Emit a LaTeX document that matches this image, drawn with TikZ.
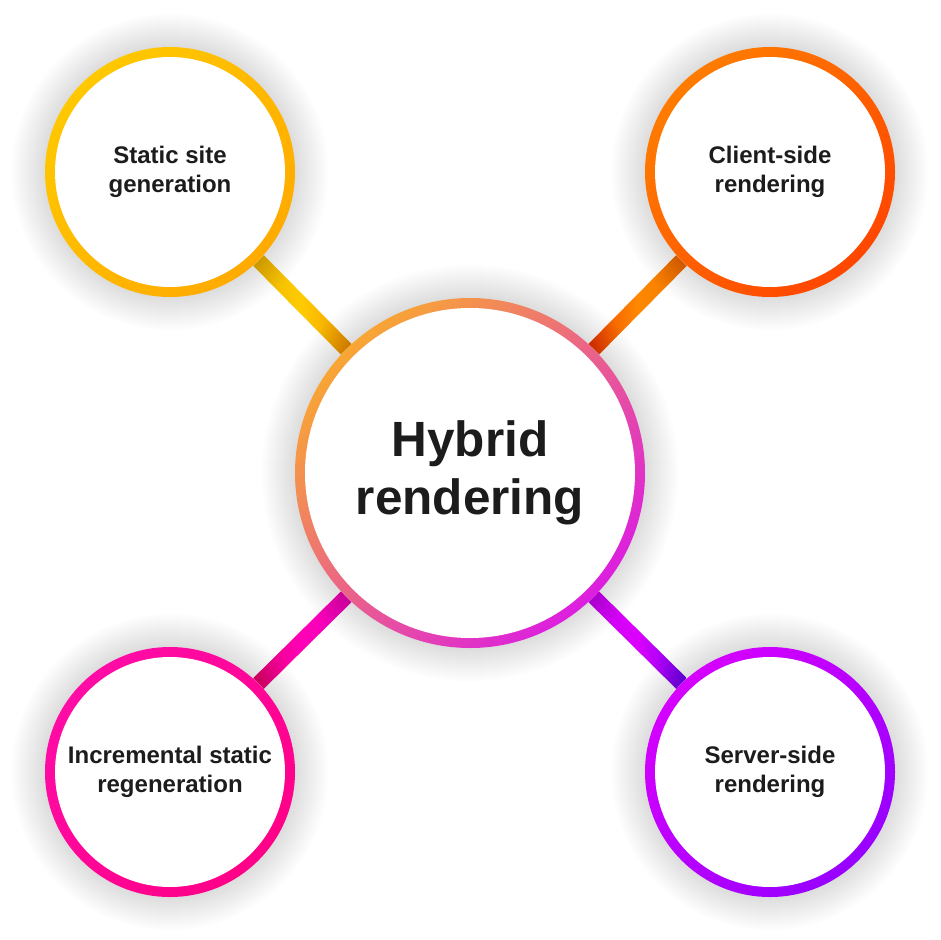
\documentclass[tikz,border=0pt]{standalone}
\usepackage{fontspec}
\setmainfont{Liberation Sans}
\usetikzlibrary{calc,backgrounds}

\definecolor{ink}{HTML}{1C1C1C}
% rings
\definecolor{ssgA}{HTML}{FFC800}\definecolor{ssgB}{HTML}{FFAA00}
\definecolor{csrA}{HTML}{FF7C00}\definecolor{csrB}{HTML}{FF4600}
\definecolor{isrA}{HTML}{FF0CA6}\definecolor{isrB}{HTML}{FF0088}
\definecolor{ssrA}{HTML}{D600FF}\definecolor{ssrB}{HTML}{9800FF}
\definecolor{hubA}{HTML}{F8A634}\definecolor{hubB}{HTML}{DC1EE0}
% bars
\definecolor{barA1}{HTML}{EDB800}\definecolor{barA2}{HTML}{FFCB00}\definecolor{barA3}{HTML}{EE9800}
\definecolor{barB1}{HTML}{EE4A00}\definecolor{barB2}{HTML}{FF8800}\definecolor{barB3}{HTML}{F07800}
\definecolor{barC1}{HTML}{E80078}\definecolor{barC2}{HTML}{FF00B8}\definecolor{barC3}{HTML}{E800BC}
\definecolor{barD1}{HTML}{CC00EE}\definecolor{barD2}{HTML}{DC00FF}\definecolor{barD3}{HTML}{7800F0}

\tikzset{
  bubble/.style 2 args={circle, inner sep=0pt, top color=#1, bottom color=#2, shading angle=45,
    path picture={\fill[white] (path picture bounding box.center) circle[radius=\pgfkeysvalueof{/pgf/minimum width}/2-10pt];},
    align=center, text=ink},
  small/.style={minimum size=250pt, font=\bfseries\fontsize{24}{29}\selectfont},
  big/.style={minimum size=350pt, font=\bfseries\fontsize{49.5}{58}\selectfont},
  halo/.style={fill=black, fill opacity=0.0032},
}

% bar between two named points, shaded along its length
\newcommand{\link}[5]{%
  \shade[left color=#3, right color=#5, middle color=#4]
    ($(#1)!7.5pt!90:(#2)$) -- ($(#1)!7.5pt!-90:(#2)$) -- ($(#2)!7.5pt!90:(#1)$) -- ($(#2)!7.5pt!-90:(#1)$) -- cycle;}

\begin{document}
\begin{tikzpicture}[x=1pt,y=-1pt]
  \useasboundingbox (0,0) rectangle (940,940);

  \node[bubble={ssgA}{ssgB}, small] (ssg) at (170,172) {Static site\\generation};
  \node[bubble={csrA}{csrB}, small] (csr) at (770,172) {Client-side\\rendering};
  \node[bubble={isrA}{isrB}, small] (isr) at (170,772) {Incremental static\\regeneration};
  \node[bubble={ssrA}{ssrB}, small] (ssr) at (770,772) {Server-side\\rendering};
  \node[bubble={hubA}{hubB}, big] (hub) at (470,473) {Hybrid\\rendering};

  \begin{pgfonlayer}{background}
    \fill[white] (0,0) rectangle (940,940);
    \link{ssg.-45}{hub.135}{barA1}{barA2}{barA3}
    \link{hub.45}{csr.-135}{barB1}{barB2}{barB3}
    \link{isr.45}{hub.-135}{barC1}{barC2}{barC3}
    \link{hub.-45}{ssr.135}{barD1}{barD2}{barD3}
    % soft shadows, stacked discs
    \foreach \r in {1,...,34} {
      \foreach \n in {ssg,csr,isr,ssr} \fill[halo] (\n.center) circle[radius=125pt+\r pt];
      \fill[halo] (hub.center) circle[radius=175pt+\r pt];
    }
  \end{pgfonlayer}
\end{tikzpicture}
\end{document}
